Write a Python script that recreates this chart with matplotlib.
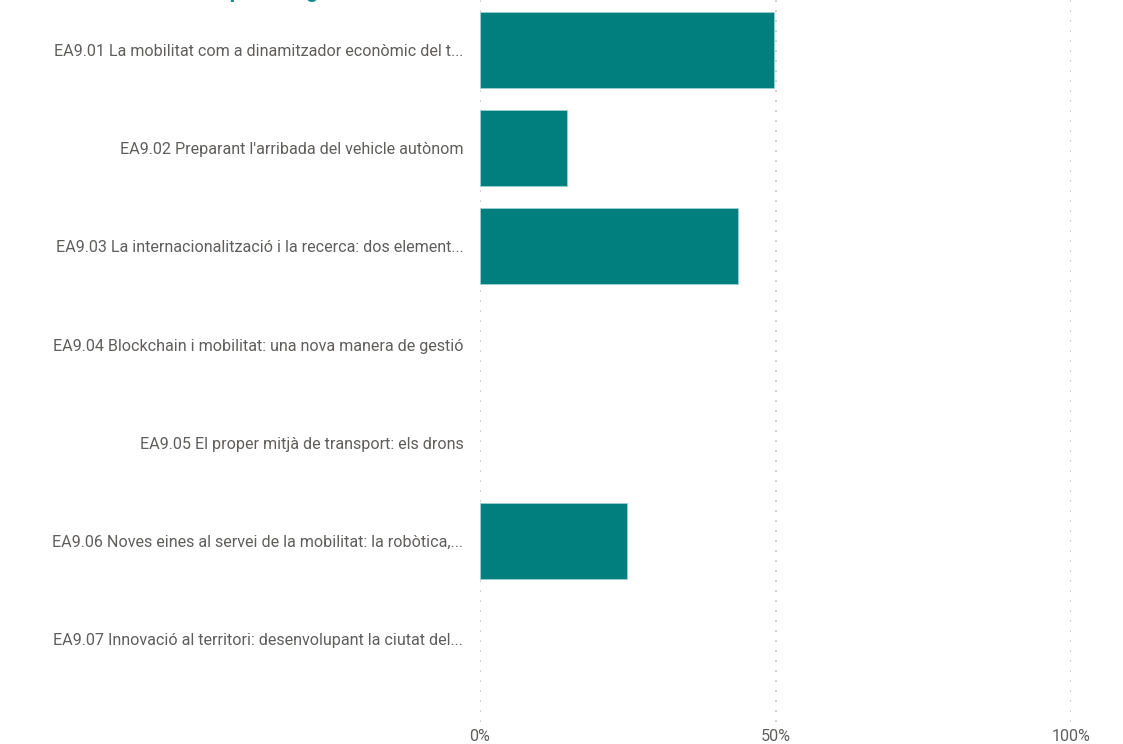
import matplotlib
matplotlib.use("Agg")
import matplotlib.pyplot as plt

categories = [
    "EA9.01 La mobilitat com a dinamitzador econòmic del t...",
    "EA9.02 Preparant l'arribada del vehicle autònom",
    "EA9.03 La internacionalització i la recerca: dos element...",
    "EA9.04 Blockchain i mobilitat: una nova manera de gestió",
    "EA9.05 El proper mitjà de transport: els drons",
    "EA9.06 Noves eines al servei de la mobilitat: la robòtica,...",
    "EA9.07 Innovació al territori: desenvolupant la ciutat del...",
]
values = [49.8, 14.8, 43.6, 0, 0, 24.8, 0]
xticks = [0, 50, 100]
xtick_labels = ["0%", "50%", "100%"]
title = "Accions per categoria"

W, H = 1123, 744
fig = plt.figure(figsize=(W / 100, H / 100), dpi=100)
left, right, top, bottom = 480, 1071, 0, 722
ax = fig.add_axes([left / W, 1 - bottom / H, (right - left) / W, (bottom - top) / H])

font = "Roboto"
label_color = "#605E5C"
bar_color = "#017F7F"

y = list(range(len(categories)))
lws = [0.6 if v > 0 else 0 for v in values]
ax.barh(y, values, height=0.775, color=bar_color, edgecolor="#9FD0D0", linewidth=lws, zorder=3)

ax.set_xlim(0, 100)
ax.set_ylim(6.843, -0.509)
ax.set_yticks(y)
ax.set_yticklabels(categories, fontsize=11.6, color=label_color, family=font)
ax.set_xticks(xticks)
ax.set_xticklabels(xtick_labels, fontsize=11.6, color=label_color, family=font)
ax.tick_params(axis="y", length=0, pad=12)
ax.tick_params(axis="x", length=0, pad=5)
ax.grid(axis="x", linestyle=(0, (1, 5)), color="#BEBEBE", linewidth=1.2, zorder=0)
for s in ax.spines.values():
    s.set_visible(False)

fig.text(149 / W, 1 + 2 / H, title, fontsize=15, color="#118B8B", family=font,
         weight="bold", ha="left", va="baseline")

fig.savefig("out.png", dpi=100)
